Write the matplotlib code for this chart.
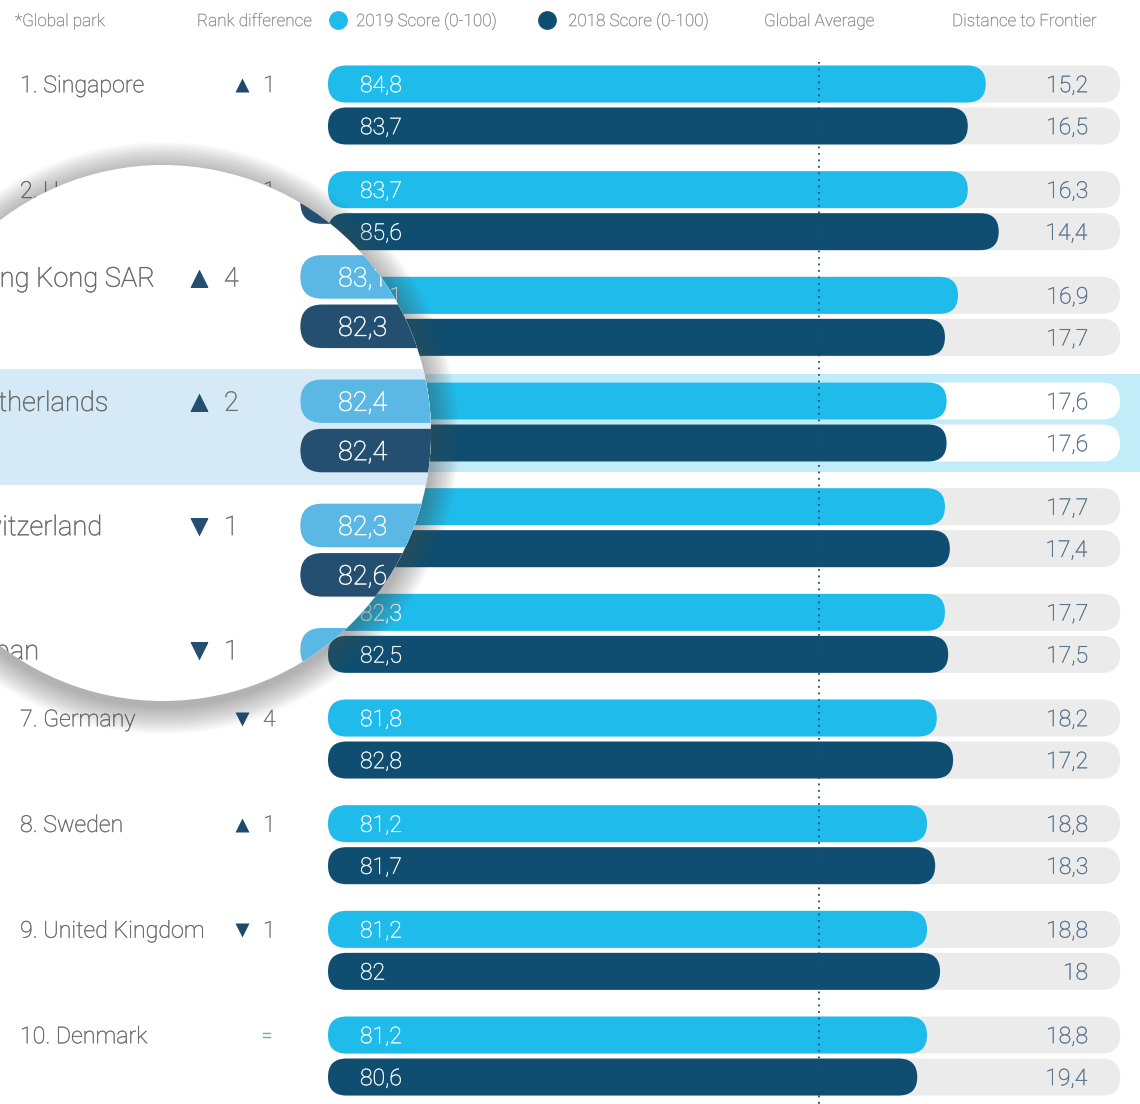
import numpy as np
import matplotlib
matplotlib.use("Agg")
import matplotlib.pyplot as plt
from matplotlib.patches import FancyBboxPatch, Circle, PathPatch
from matplotlib.textpath import TextPath
from matplotlib.font_manager import FontProperties
from matplotlib.transforms import Affine2D, ScaledTranslation

# ---------------- data ----------------
countries = ["Singapore", "United States", "Hong Kong SAR", "Netherlands", "Switzerland",
             "Japan", "Germany", "Sweden", "United Kingdom", "Denmark"]
rank_2019 = [1, 2, 3, 4, 5, 6, 7, 8, 9, 10]
rank_change = [1, -1, 4, 2, -1, -1, -4, 1, -1, 0]
score_2019 = [84.8, 83.7, 83.1, 82.4, 82.3, 82.3, 81.8, 81.2, 81.2, 81.2]
score_2018 = [83.7, 85.6, 82.3, 82.4, 82.6, 82.5, 82.8, 81.7, 82.0, 80.6]
dist_2019 = [15.2, 16.3, 16.9, 17.6, 17.7, 17.7, 18.2, 18.8, 18.8, 18.8]
dist_2018 = [16.5, 14.4, 17.7, 17.6, 17.4, 17.5, 17.2, 18.3, 18.0, 19.4]
highlight_country = "Netherlands"
header_labels = ["*Global park", "Rank difference", "2019 Score (0-100)",
                 "2018 Score (0-100)", "Global Average", "Distance to Frontier"]

# ---------------- layout ----------------
W, H, DPI = 1140, 1104, 100
SX = 16.3          # px per score point
SY = 105.67        # px per row
BAR_BASE = 44.45   # score at left edge of bars
BAR_BASE_PX = 328
ROW0_PX = 105
TRACK_END = 93.05
BAR_H = 37 / SY
BAR_OFF = 21 / SY
ASP = SX / SY
RND = BAR_H / ASP / 2
AVG_PX = 819

# magnifier
LCX, LCY, LR = 163, 433, 268
MCX, MCY, MAG = 485, 400, 1.176

FPROP = FontProperties(family=["Roboto", "DejaVu Sans"], weight="light")
CAP = 0.711


def px2x(px):
    return BAR_BASE + (px - BAR_BASE_PX) / SX


def py2y(py):
    return (py - ROW0_PX) / SY


def fmt(v):
    return f"{v:g}".replace(".", ",")


MAIN = dict(c19="#1fbbea", c18="#0f4e71", track="#ebebeb", band="#c3ecf9",
            label="#666666", num="#707070", dist="#557089", tri="#1b4a6e",
            eq="#86a2bb", head="#888888", avg="#1d4f78")
LENS = dict(c19="#5bb8e4", c18="#244f71", track="#ebebeb", band="#d5eaf6",
            label="#666666", num="#707070", dist="#557089", tri="#244f71",
            eq="#86a2bb", head="#888888", avg="#1d4f78")


def ptext(ax, x, y, s, fs, color, ha="left", z=5, k=1.0):
    tp = TextPath((0, 0), s, size=fs, prop=FPROP)
    ext = tp.get_extents()
    if ha == "left":
        ox = 0
    elif ha == "right":
        ox = -ext.x1
    else:
        ox = -(ext.x0 + ext.x1) / 2
    oy = -CAP * fs / 2
    tr = Affine2D().translate(ox, oy).scale(DPI / 72.0) + ScaledTranslation(x, y, ax.transData)
    p = PathPatch(tp, transform=tr, fc=color, ec=color, lw=0.35 * k, zorder=z)
    ax.add_patch(p)
    return p


def pill(ax, x0, x1, yc, color, z):
    p = FancyBboxPatch((x0, yc - BAR_H / 2), x1 - x0, BAR_H,
                       boxstyle=f"round,pad=0,rounding_size={RND}",
                       mutation_aspect=ASP, fc=color, ec="none", zorder=z)
    ax.add_patch(p)
    return p


def draw(ax, P, k):
    arts = []
    hi = countries.index(highlight_country)
    arts.append(ax.axhspan(hi - 48 / SY, hi + 50 / SY, color=P["band"], lw=0, zorder=1))

    for i, name in enumerate(countries):
        y19 = i - BAR_OFF
        y18 = i + BAR_OFF
        tcol = "white" if i == hi else P["track"]
        for yc, sc, ds, col in ((y19, score_2019[i], dist_2019[i], P["c19"]),
                                (y18, score_2018[i], dist_2018[i], P["c18"])):
            arts.append(pill(ax, BAR_BASE, TRACK_END, yc, tcol, 2))
            arts.append(pill(ax, BAR_BASE, sc, yc, col, 3))
            arts.append(ptext(ax, px2x(360), yc, fmt(sc), 16.5 * k, "white", k=k))
            arts.append(ptext(ax, px2x(1087), yc, fmt(ds), 16.5 * k, P["dist"], ha="right", k=k))
        arts.append(ptext(ax, px2x(20), y19, f"{rank_2019[i]}. {name}", 16.7 * k, P["label"], k=k))
        rc = rank_change[i]
        if rc == 0:
            arts.append(ptext(ax, px2x(267), y19, "=", 15 * k, P["eq"], ha="center", k=k))
        else:
            mk = "^" if rc > 0 else "v"
            arts += ax.plot([px2x(242)], [y19 + 1 / SY], marker=mk, ms=10.5 * k,
                            color=P["tri"], mec="none", ls="none", zorder=5)
            arts.append(ptext(ax, px2x(263), y19, f"{abs(rc)}", 16.5 * k, P["num"], k=k))

    # global average dotted line
    arts += ax.plot([px2x(AVG_PX)] * 2, [py2y(62), py2y(H)], color=P["avg"],
                    lw=1.3 * k, ls=(0, (1, 2.6)), zorder=6)

    # header
    hy = py2y(20)
    hx = [15, 197, 356, 568, 764, 952]
    for x, lab in zip(hx, header_labels):
        arts.append(ptext(ax, px2x(x), hy, lab, 12.3 * k, P["head"], k=k * 0.7))
    arts += ax.plot([px2x(338)], [hy], "o", ms=12.5 * k, color=P["c19"], zorder=5)
    arts += ax.plot([px2x(547)], [hy], "o", ms=12.5 * k, color=P["c18"], zorder=5)
    return arts


fig = plt.figure(figsize=(W / DPI, H / DPI), dpi=DPI)
fig.patch.set_facecolor("white")

ax = fig.add_axes([0, 0, 1, 1])
ax.axis("off")
ax.set_xlim(px2x(0), px2x(W))
ax.set_ylim(py2y(H), py2y(0))
ax.set_autoscale_on(False)
draw(ax, MAIN, 1.0)

# ---------------- magnifier ----------------
ax2 = fig.add_axes([0, 0, 1, 1])
ax2.axis("off")
ax2.patch.set_visible(False)
ax2.set_xlim(px2x(MCX - MCX / MAG), px2x(MCX + (W - MCX) / MAG))
ax2.set_ylim(py2y(MCY + (H - MCY) / MAG), py2y(MCY - MCY / MAG))
ax2.set_autoscale_on(False)

cx_in, cy_in = LCX / DPI, (H - LCY) / DPI
for s in np.linspace(28, 1, 18):
    sh = Circle((cx_in, cy_in - 5 / DPI), (LR + s) / DPI, transform=fig.dpi_scale_trans,
                fc="#4d4d4d", ec="none", alpha=0.028, zorder=0)
    ax2.add_patch(sh)
lens_bg = Circle((cx_in, cy_in), LR / DPI, transform=fig.dpi_scale_trans,
                 fc="white", ec="none", zorder=0.5)
ax2.add_patch(lens_bg)
clip = Circle((cx_in, cy_in), LR / DPI, transform=fig.dpi_scale_trans)

arts = draw(ax2, LENS, MAG)
for a in arts:
    a.set_clip_on(True)
    a.set_clip_path(clip)

fig.savefig("out.png", dpi=DPI, facecolor="white")
